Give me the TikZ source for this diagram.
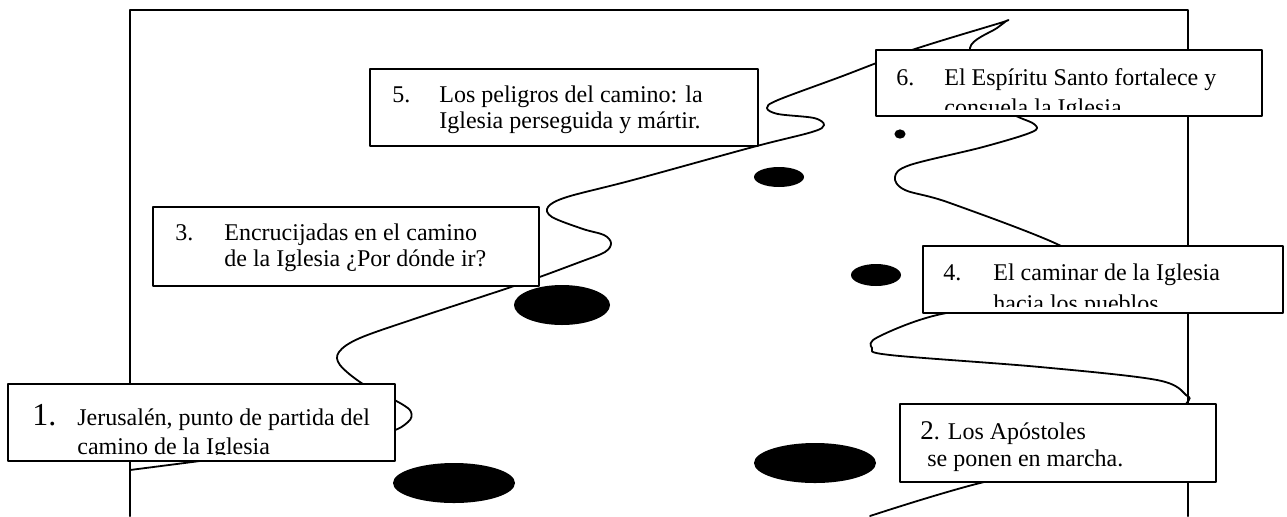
\documentclass[tikz,border=0pt]{standalone}
\usepackage{fontspec}
\setmainfont{Liberation Serif}
\begin{document}
\begin{tikzpicture}[x=0.5pt,y=-0.5pt,line cap=round,line join=round,
  frame/.style={line width=1.1pt},
  road/.style={line width=0.9pt},
  box/.style={draw,fill=white,line width=1.1pt,inner sep=0pt},
  txt/.style={anchor=base west,inner sep=0pt,font=\fontsize{12pt}{14pt}\selectfont}]
  \useasboundingbox (0,0) rectangle (1287,516);
  \draw[frame] (130,516) -- (130,10) -- (1188,10) -- (1188,516);
  \draw[road] plot[smooth,tension=0.55] coordinates {
    (130,470) (200,461) (300,448) (385,433) (408,422) (411,412) (400,403)
    (363,384) (340,365) (339,352) (360,338) (420,317) (517,285) (580,262)
    (605,252) (611,243) (604,235) (583,229) (552,217) (548,207) (567,197)
    (633,180) (753,147) (812,132) (824,125) (814,118) (778,114) (767,108)
    (778,100) (840,77) (912,50) (1000,23) (1006,21) (997,28) (970,48)
    (990,85) (1010,112) (1034,124) (1032,132) (983,147) (910,165) (895,177)
    (905,190) (950,203) (1063,247) (1085,275) (1040,298) (937,315) (878,337)
    (872,348) (890,355) (1040,367) (1157,380) (1186,395) (1186,404)
    (1150,445) (980,483) (870,516)};
  \foreach \cx/\cy/\rx/\ry in {454/483/30.5pt/10pt, 815/463/30.5pt/10pt,
      562/305/24pt/10pt, 779/177/12.5pt/5pt, 876/275/12.5pt/5.5pt, 900/134/2.8pt/2.3pt}
    \fill (\cx,\cy) ellipse [x radius=\rx, y radius=\ry];
  \foreach \n/\cx/\cy/\w/\h in {b1/201.5/422.5/193.5pt/38.5pt, b2/1058/443/158pt/39pt,
      b3/346/246.5/193pt/39.5pt, b4/1103/279.5/180pt/33.5pt,
      b5/564/107.5/194pt/38.5pt, b6/1069/83/193pt/33pt}
    \node[box,minimum width=\w,minimum height=\h] (\n) at (\cx,\cy) {};
  \begin{scope}
    \clip ([yshift=4pt]b1.south west) rectangle (b1.north east);
    \node[txt,font=\fontsize{16pt}{18pt}\selectfont] (n1) at (32,425) {1.};
    \node[txt] (t1a) at (77,425) {Jerusalén, punto de partida del};
    \node[txt] (t1b) at (77,454) {camino de la Iglesia};
  \end{scope}
  \begin{scope}
    \clip ([yshift=4pt]b2.south west) rectangle (b2.north east);
    \node[txt] (t2a) at (920,439) {{\fontsize{13.5pt}{14pt}\selectfont 2}. Los Apóstoles};
    \node[txt] (t2b) at (927,466) {se ponen en marcha.};
  \end{scope}
  \begin{scope}
    \clip ([yshift=4pt]b3.south west) rectangle (b3.north east);
    \node[txt] (n3) at (175,240) {3.};
    \node[txt] (t3a) at (224,240) {Encrucijadas en el camino};
    \node[txt] (t3b) at (224,266) {de la Iglesia ¿Por dónde ir?};
  \end{scope}
  \begin{scope}
    \clip ([yshift=4pt]b4.south west) rectangle (b4.north east);
    \node[txt] (n4) at (943,280) {4.};
    \node[txt] (t4a) at (993,280) {El caminar de la Iglesia};
    \node[txt] (t4b) at (993,311) {hacia los pueblos};
  \end{scope}
  \begin{scope}
    \clip ([yshift=4pt]b5.south west) rectangle (b5.north east);
    \node[txt] (n5) at (392,102) {5.};
    \node[txt] (t5a) at (439,102) {Los peligros del camino: la};
    \node[txt] (t5b) at (439,128) {Iglesia perseguida y mártir.};
  \end{scope}
  \begin{scope}
    \clip ([yshift=4pt]b6.south west) rectangle (b6.north east);
    \node[txt] (n6) at (896,85) {6.};
    \node[txt] (t6a) at (944,85) {El Espíritu Santo fortalece y};
    \node[txt] (t6b) at (944,115) {consuela la Iglesia};
  \end{scope}
\end{tikzpicture}
\end{document}
